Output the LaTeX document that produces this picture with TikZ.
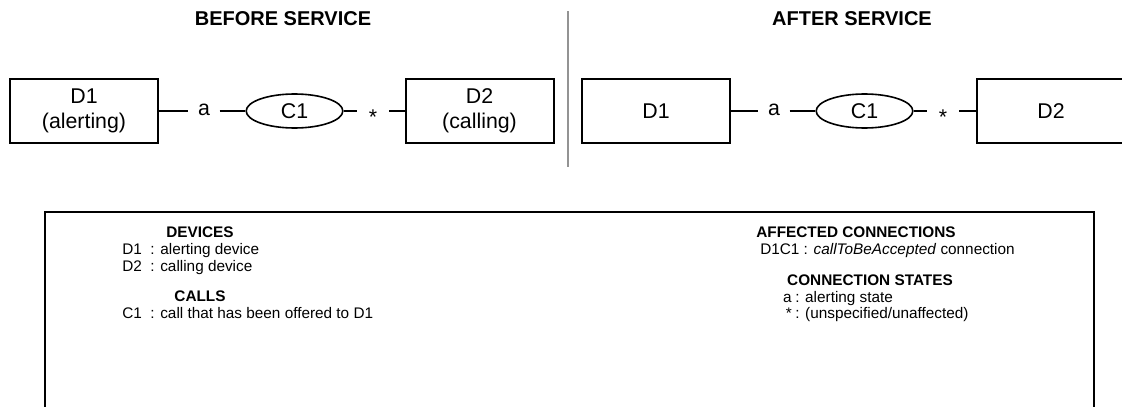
\documentclass[tikz,border=0pt]{standalone}
\usepackage{fontspec}
\setmainfont{Liberation Sans}
\usetikzlibrary{shapes.geometric}
\begin{document}
\begin{tikzpicture}[x=0.75pt,y=-0.75pt,
  boxfont/.style={font=\fontsize{16}{19}\selectfont},
  dev/.style={draw,line width=1.5pt,minimum width=111pt,minimum height=47.5pt,align=center,inner sep=0pt,boxfont},
  callnode/.style={draw,ellipse,line width=1.2pt,minimum width=72.5pt,minimum height=25.5pt,inner sep=0pt,boxfont},
  conn/.style={line width=1.5pt},
  lbl/.style={boxfont,inner ysep=0pt,inner xsep=7pt,anchor=base},
  ttl/.style={font=\bfseries\fontsize{15}{18}\selectfont,inner sep=0pt},
  leg/.style={font=\fontsize{11.5}{14}\selectfont,inner sep=0pt,anchor=base west},
  legt/.style={font=\bfseries\fontsize{11.5}{14}\selectfont,inner sep=0pt,anchor=base}]
\useasboundingbox (0,0) rectangle (1122,407);
\clip (0,0) rectangle (1122,407);
% titles
\node[ttl] (tb) at (283,19) {BEFORE SERVICE};
\node[ttl] (ta) at (852,19) {AFTER SERVICE};
% divider
\coordinate (v1) at (568,11);
\coordinate (v2) at (568,167);
\draw[line width=1.5pt,gray!85] (v1) -- (v2);
% before
\node[dev] (bd1) at (84,111) {D1\\(alerting)};
\node[callnode] (bc1) at (294.5,111) {C1};
\node[dev] (bd2) at (479.5,111) {D2\\(calling)};
\node[lbl] (ba) at (204,115) {a};
\node[lbl,inner xsep=9pt] (bs) at (373,124) {*};
\draw[conn] (bd1.east) -- (ba.west |- bd1.east);
\draw[conn] (ba.east |- bd1.east) -- (bc1.west);
\draw[conn] (bc1.east) -- (bs.west |- bc1.east);
\draw[conn] (bs.east |- bc1.east) -- (bd2.west);
% after
\node[dev] (ad1) at (656,111) {D1};
\node[callnode] (ac1) at (864.5,111) {C1};
\node[dev] (ad2) at (1051,111) {D2};
\node[lbl] (aa) at (774,115) {a};
\node[lbl,inner xsep=9pt] (as) at (943,124) {*};
\draw[conn] (ad1.east) -- (aa.west |- ad1.east);
\draw[conn] (aa.east |- ad1.east) -- (ac1.west);
\draw[conn] (ac1.east) -- (as.west |- ac1.east);
\draw[conn] (as.east |- ac1.east) -- (ad2.west);
% legend box
\coordinate (lb1) at (45,420);
\coordinate (lb2) at (45,212);
\coordinate (lb3) at (1094,212);
\coordinate (lb4) at (1094,420);
\draw[line width=1.5pt] (lb1) -- (lb2) -- (lb3) -- (lb4);
\node[legt] (devh) at (200,237) {DEVICES};
\node[leg] (l1) at (122,254) {D1\ \ : alerting device};
\node[leg] (l2) at (122,271) {D2\ \ : calling device};
\node[legt] (callh) at (200,301) {CALLS};
\node[leg] (l3) at (122,318) {C1\ \ : call that has been offered to D1};
\node[legt] (affh) at (856,237) {AFFECTED CONNECTIONS};
\node[leg] (l4) at (760,254) {D1C1\ : \textit{callToBeAccepted} connection};
\node[legt] (csh) at (870,285) {CONNECTION STATES};
\node[leg,anchor=base east] (l5a) at (792,302) {a};
\node[leg] (l5) at (795,302) {: alerting state};
\node[leg,anchor=base east] (l6a) at (792,318) {*};
\node[leg] (l6) at (795,318) {: (unspecified/unaffected)};
\end{tikzpicture}
\end{document}
